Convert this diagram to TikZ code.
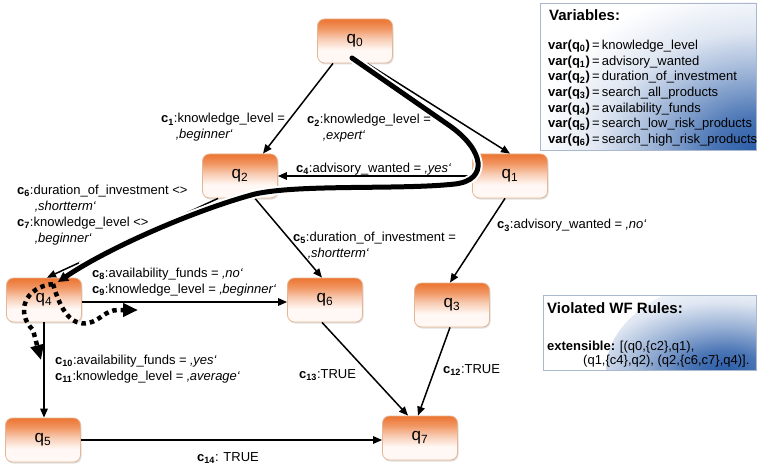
\documentclass[tikz,border=0pt]{standalone}
\usepackage{fontspec}
\setmainfont{Liberation Sans}
\usetikzlibrary{arrows.meta,shadows,shadings}

\definecolor{qorange}{HTML}{EC7431}
\definecolor{qpale}{HTML}{FFF8F4}
\definecolor{qedge}{HTML}{E6B694}
\definecolor{vblue}{HTML}{2B5DA8}
\definecolor{vedge}{HTML}{A9B8CC}

% state boxes: strong orange on top fading to white at the bottom
\pgfdeclareverticalshading{qshade}{100bp}{color(0bp)=(qpale); color(25bp)=(qpale); color(40bp)=(qpale); color(52bp)=(qorange!35!white); color(64bp)=(qorange!75!white); color(75bp)=(qorange); color(100bp)=(qorange)}
% information boxes: blue glow from the lower right corner
\pgfdeclareradialshading{vglow}{\pgfpoint{0bp}{0bp}}{color(0bp)=(vblue); color(5bp)=(vblue!85!white); color(12bp)=(vblue!45!white); color(18bp)=(vblue!15!white); color(25bp)=(white); color(50bp)=(white)}

\tikzset{
  qstate/.style={rounded corners=7pt, minimum width=75pt, minimum height=44pt,
    shade, shading=qshade, draw=qedge, line width=0.8pt, inner sep=0pt,
    font=\fontsize{17}{20}\selectfont,
    drop shadow={shadow xshift=1pt, shadow yshift=-1.5pt, opacity=0.25, fill=gray}},
  conn/.style={line width=1.5pt, -{Triangle[length=9pt,width=7.5pt]}},
  lbl/.style={anchor=base west, inner sep=0pt, align=left, font=\fontsize{13}{16}\selectfont},
  boxtitle/.style={anchor=base west, inner sep=0pt, font=\bfseries\fontsize{15}{18}\selectfont},
  infobox/.style={draw=vedge, line width=0.6pt, fill=white, inner sep=0pt,
    drop shadow={shadow xshift=1.2pt, shadow yshift=-1.2pt, opacity=0.2, fill=gray}},
  pathmark/.style={line width=5pt, line cap=round, -{Triangle[length=10pt,width=10pt]},
    preaction={draw=white, line width=9pt, shorten >=28pt, arrows=-}},
  loopmark/.style={line width=4.5pt, dash pattern=on 4.5pt off 4pt,
    -{Triangle[length=15pt,width=13pt]}}
}

\begin{document}
\begin{tikzpicture}[x=1pt,y=-1pt]
\useasboundingbox (0,0) rectangle (758,468);
\fill[white] (0,0) rectangle (758,468);

% information boxes (multi-line texts are anchored at their last baseline)
\node[infobox, minimum width=216pt, minimum height=147pt,
  path picture={\shade[shading=vglow]
    (path picture bounding box.south east) ellipse (220pt and 165pt);}] (varbox) at (648,76.5) {};
\node[boxtitle] (vartitle) at (549,21) {Variables:};
\node[lbl, font=\fontsize{13}{15.7}\selectfont] (varlist) at (548,143.7) {%
\textbf{var(q\textsubscript{0})}\,=\,knowledge\_level\\
\textbf{var(q\textsubscript{1})}\,=\,advisory\_wanted\\
\textbf{var(q\textsubscript{2})}\,=\,duration\_of\_investment\\
\textbf{var(q\textsubscript{3})}\,=\,search\_all\_products\\
\textbf{var(q\textsubscript{4})}\,=\,availability\_funds\\
\textbf{var(q\textsubscript{5})}\,=\,search\_low\_risk\_products\\
\textbf{var(q\textsubscript{6})}\,=\,search\_high\_risk\_products};

\node[infobox, minimum width=213pt, minimum height=75pt,
  path picture={\shade[shading=vglow]
    (path picture bounding box.south east) ellipse (150pt and 95pt);}] (wfbox) at (649.5,332.5) {};
\node[boxtitle] (wftitle) at (547,313) {Violated WF Rules:};
\node[lbl, font=\fontsize{13}{14}\selectfont] (wflist) at (547,364) {%
\textbf{extensible:} [(q0,\{c2\},q1),\\
\hspace*{36pt}(q1,\{c4\},q2), (q2,\{c6,c7\},q4)].};

% states
\node[qstate] (q0) at (355,41)  {q\textsubscript{0}};
\node[qstate] (q1) at (510,176) {q\textsubscript{1}};
\node[qstate] (q2) at (240,176) {q\textsubscript{2}};
\node[qstate] (q3) at (452,305) {q\textsubscript{3}};
\node[qstate] (q4) at (44,300)  {q\textsubscript{4}};
\node[qstate] (q5) at (43,440)  {q\textsubscript{5}};
\node[qstate] (q6) at (325,300) {q\textsubscript{6}};
\node[qstate] (q7) at (420,438) {q\textsubscript{7}};

% transitions
\draw[conn] ([xshift=-22pt]q0.south) -- ([xshift=23pt]q2.north);
\draw[conn] ([xshift=12pt]q0.south) -- (q1.north);
\draw[conn] (q1.west) -- (q2.east);
\draw[conn] ([xshift=-5pt]q1.south) -- ([xshift=-2pt]q3.north);
\draw[conn] ([xshift=15pt]q2.south) -- ([xshift=-3pt]q6.north);
\draw[conn] ([xshift=-22pt]q2.south) -- ([xshift=3pt]q4.north);
\draw[conn] ([yshift=-2pt]q4.east) -- ([yshift=-2pt]q6.west);
\draw[conn] (q4.south) -- (q4.south |- q5.north);
\draw[conn] ([xshift=-3pt]q6.south) -- ([xshift=-12pt]q7.north);
\draw[conn] ([xshift=-2pt]q3.south) -- ([xshift=-2pt]q7.north);
\draw[conn] (q5.east) -- (q5.east -| q7.west);

% marked execution path and its continuation around q4
\coordinate (pstart) at (352,58);
\coordinate (pend) at (58,282);
\coordinate (loopstart) at (53,284);
\draw[pathmark] (pstart) -- (450,126)
  .. controls (484,150) and (489,180) .. (455,184)
  .. controls (400,190) and (300,184) .. (255,194)
  .. controls (195,210) and (108,248) .. (pend);
\draw[loopmark] (loopstart) .. controls (25,287) and (15,312) .. (33,330) -- (41,360);
\draw[loopmark] (loopstart) .. controls (61,312) and (72,326) .. (88,323)
  .. controls (100,321) and (105,310) .. (118,310) -- (138,310);

% transition conditions
\node[lbl] (c1) at (161,139) {\textbf{c\textsubscript{1}}:knowledge\_level =\\\hspace*{15pt}\textit{‚beginner‘}};
\node[lbl] (c2) at (307,140) {\textbf{c\textsubscript{2}}:knowledge\_level =\\\hspace*{16pt}\textit{‚expert‘}};
\node[lbl] (c4) at (296,172) {\textbf{c\textsubscript{4}}:advisory\_wanted = \textit{‚yes‘}};
\node[lbl] (c67) at (17,242) {\textbf{c\textsubscript{6}}:duration\_of\_investment <>\\\hspace*{18pt}\textit{‚shortterm‘}\\\textbf{c\textsubscript{7}}:knowledge\_level <>\\\hspace*{18pt}\textit{‚beginner‘}};
\node[lbl] (c89) at (92,293) {\textbf{c\textsubscript{8}}:availability\_funds = \textit{‚no‘}\\\textbf{c\textsubscript{9}}:knowledge\_level = \textit{‚beginner‘}};
\node[lbl] (c1011) at (55,380) {\textbf{c\textsubscript{10}}:availability\_funds = \textit{‚yes‘}\\\textbf{c\textsubscript{11}}:knowledge\_level = \textit{‚average‘}};
\node[lbl] (c5) at (293,257) {\textbf{c\textsubscript{5}}:duration\_of\_investment =\\\hspace*{15pt}\textit{‚shortterm‘}};
\node[lbl] (c3) at (497,229) {\textbf{c\textsubscript{3}}:advisory\_wanted = \textit{‚no‘}};
\node[lbl] (c13) at (299,378) {\textbf{c\textsubscript{13}}:TRUE};
\node[lbl] (c12) at (443,373) {\textbf{c\textsubscript{12}}:TRUE};
\node[lbl] (c14) at (197,461) {\textbf{c\textsubscript{14}}: TRUE};
\end{tikzpicture}
\end{document}
